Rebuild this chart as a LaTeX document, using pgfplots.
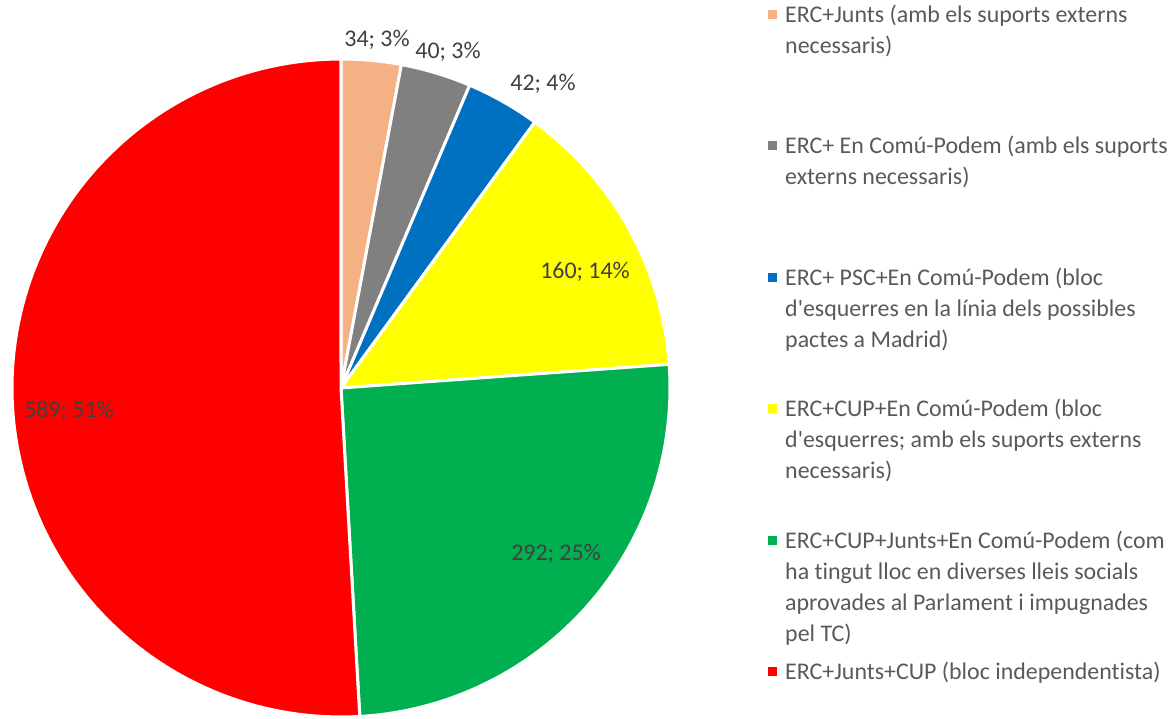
\documentclass[border=0pt]{standalone}
\usepackage{pgfplots}
\pgfplotsset{compat=1.18}
\usepackage{fontspec}
\setmainfont{Carlito}[Ligatures=NoCommon]
\definecolor{cA}{HTML}{F4B183}
\definecolor{cB}{HTML}{808080}
\definecolor{cC}{HTML}{0070C0}
\definecolor{cD}{HTML}{FFFF00}
\definecolor{cE}{HTML}{00B050}
\definecolor{cF}{HTML}{FF0000}
\definecolor{lbl}{HTML}{404040}
\definecolor{legtxt}{HTML}{595959}
\begin{document}%
\begin{tikzpicture}[
  lg/.style={anchor=base west,text=legtxt,font=\fontsize{24}{31}\selectfont,inner sep=0pt},
  dl/.style={anchor=base,text=lbl,font=\fontsize{24}{31}\selectfont,inner sep=0pt}]
% values
\def\vA{34}\def\vB{40}\def\vC{42}\def\vD{160}\def\vE{292}\def\vF{589}
\pgfmathsetmacro{\tot}{\vA+\vB+\vC+\vD+\vE+\vF}
\pgfmathsetmacro{\unitang}{360/\tot}
\pgfmathsetmacro{\aA}{90}
\pgfmathsetmacro{\aB}{\aA-\unitang*\vA}
\pgfmathsetmacro{\aC}{\aB-\unitang*\vB}
\pgfmathsetmacro{\aD}{\aC-\unitang*\vC}
\pgfmathsetmacro{\aE}{\aD-\unitang*\vD}
\pgfmathsetmacro{\aF}{\aE-\unitang*\vE}
\pgfmathsetmacro{\aG}{\aF-\unitang*\vF}
\begin{axis}[x=1bp,y=1bp,xmin=0,xmax=1173,ymin=0,ymax=716,hide axis,clip=false,
  every axis plot/.append style={draw=white,line width=3bp,line join=round,samples=60}]
\path (axis cs:0,0) rectangle (axis cs:1173,716);
\addplot[fill=cA,domain=\aB:\aA] ({341+329*cos(x)},{328+329*sin(x)}) -- (axis cs:341,328) -- cycle;
\addplot[fill=cB,domain=\aC:\aB] ({341+329*cos(x)},{328+329*sin(x)}) -- (axis cs:341,328) -- cycle;
\addplot[fill=cC,domain=\aD:\aC] ({341+329*cos(x)},{328+329*sin(x)}) -- (axis cs:341,328) -- cycle;
\addplot[fill=cD,domain=\aE:\aD] ({341+329*cos(x)},{328+329*sin(x)}) -- (axis cs:341,328) -- cycle;
\addplot[fill=cE,domain=\aF:\aE] ({341+329*cos(x)},{328+329*sin(x)}) -- (axis cs:341,328) -- cycle;
\addplot[fill=cF,domain=\aG:\aF,samples=120] ({341+329*cos(x)},{328+329*sin(x)}) -- (axis cs:341,328) -- cycle;
% data labels
\node[dl] at (axis cs:377,669) {34; 3\%};
\node[dl] at (axis cs:448,657) {40; 3\%};
\node[dl] at (axis cs:543,625) {42; 4\%};
\node[dl] at (axis cs:585,437) {160; 14\%};
\node[dl] at (axis cs:556,155) {292; 25\%};
\node[dl] at (axis cs:69,298) {589; 51\%};
% legend
\fill[cA] (axis cs:768,697) rectangle (axis cs:777,706);
\node[lg] at (axis cs:785,693) {ERC+Junts (amb els suports externs};
\node[lg] at (axis cs:785,662) {necessaris)};
\fill[cB] (axis cs:768,566) rectangle (axis cs:777,575);
\node[lg] at (axis cs:785,562) {ERC+ En Comú-Podem (amb els suports};
\node[lg] at (axis cs:785,531) {externs necessaris)};
\fill[cC] (axis cs:768,434) rectangle (axis cs:777,443);
\node[lg] at (axis cs:785,430) {ERC+ PSC+En Comú-Podem (bloc};
\node[lg] at (axis cs:785,399) {d\textquotesingle esquerres en la línia dels possibles};
\node[lg] at (axis cs:785,368) {pactes a Madrid)};
\fill[cD] (axis cs:768,303) rectangle (axis cs:777,312);
\node[lg] at (axis cs:785,299) {ERC+CUP+En Comú-Podem (bloc};
\node[lg] at (axis cs:785,268) {d\textquotesingle esquerres; amb els suports externs};
\node[lg] at (axis cs:785,237) {necessaris)};
\fill[cE] (axis cs:768,171) rectangle (axis cs:777,180);
\node[lg] at (axis cs:785,167) {ERC+CUP+Junts+En Comú-Podem (com};
\node[lg] at (axis cs:785,136) {ha tingut lloc en diverses lleis socials};
\node[lg] at (axis cs:785,105) {aprovades al Parlament i impugnades};
\node[lg] at (axis cs:785,74) {pel TC)};
\fill[cF] (axis cs:768,40) rectangle (axis cs:777,49);
\node[lg] at (axis cs:785,36) {ERC+Junts+CUP (bloc independentista)};
\end{axis}
\end{tikzpicture}%
\end{document}
